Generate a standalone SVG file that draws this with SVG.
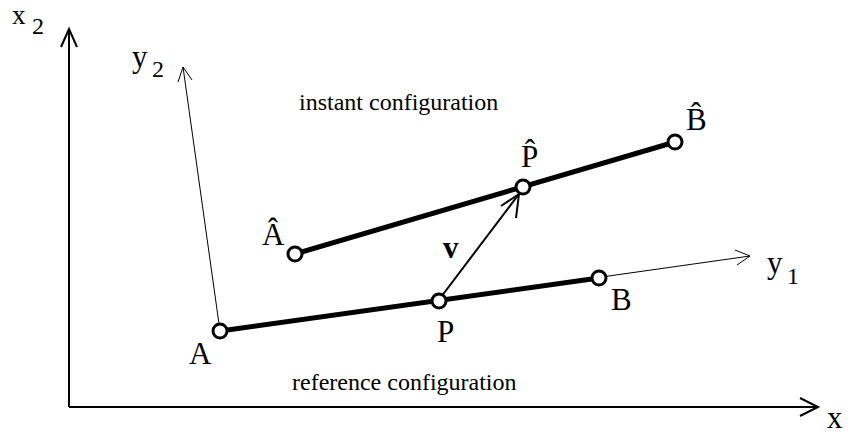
<svg xmlns="http://www.w3.org/2000/svg" width="852" height="439" viewBox="0 0 852 439">
<style>
text{font-family:"Liberation Serif","Times New Roman",serif;fill:#000}
.lbl{font-size:31px}
.sub{font-size:24px}
.cap{font-size:24px}
.axis{stroke:#000;stroke-width:2;fill:none}
.thin{stroke:#000;stroke-width:1;fill:none}
.bar{stroke:#000;stroke-width:5;fill:none;stroke-linecap:round}
.node{fill:#fff;stroke:#000;stroke-width:3}
</style>
<rect width="852" height="439" fill="#fff"/>
<g id="connectors">
  <path class="axis" d="M69,407 V29 M61,47 L69,29 L77,47"/>
  <path class="axis" d="M69,407 H817 M800,398 L818,407 L800,416"/>
  <path class="thin" d="M220,331 L183,67 M178,82 L183,67 L192,80"/>
  <path class="thin" d="M220,331 L750,256 M735,250 L750,256 L737,265"/>
  <path class="bar" d="M220,331 L599,278"/>
  <path class="bar" d="M295,254 L675,142"/>
  <path class="axis" d="M438,301 L519,194 M501,206 L519,194 L516,218" stroke-width="2.5"/>
</g>
<g id="nodeA"><circle class="node" cx="220" cy="331" r="7"/><text class="lbl" x="189" y="364">A</text></g>
<g id="nodeP"><circle class="node" cx="439" cy="301" r="7"/><text class="lbl" x="437" y="342">P</text></g>
<g id="nodeB"><circle class="node" cx="599" cy="278" r="7"/><text class="lbl" x="611" y="310">B</text></g>
<g id="nodeAhat"><circle class="node" cx="295" cy="254" r="7"/><text class="lbl" x="262" y="245">Â</text></g>
<g id="nodePhat"><circle class="node" cx="523" cy="187" r="7"/><text class="lbl" x="521" y="167">P̂</text></g>
<g id="nodeBhat"><circle class="node" cx="675" cy="142" r="7"/><text class="lbl" x="686" y="130">B̂</text></g>
<g id="labels">
  <text x="12" y="24" font-size="27">x</text><text class="sub" x="32" y="34">2</text>
  <text class="lbl" x="132" y="67">y</text><text class="sub" x="152" y="77">2</text>
  <text class="lbl" x="767" y="273">y</text><text class="sub" x="787" y="284">1</text>
  <text class="lbl" x="827" y="428">x</text>
  <text class="lbl" x="443" y="258" font-weight="bold">v</text>
  <text class="cap" x="299" y="110">instant configuration</text>
  <text class="cap" x="292" y="390">reference configuration</text>
</g>
</svg>
